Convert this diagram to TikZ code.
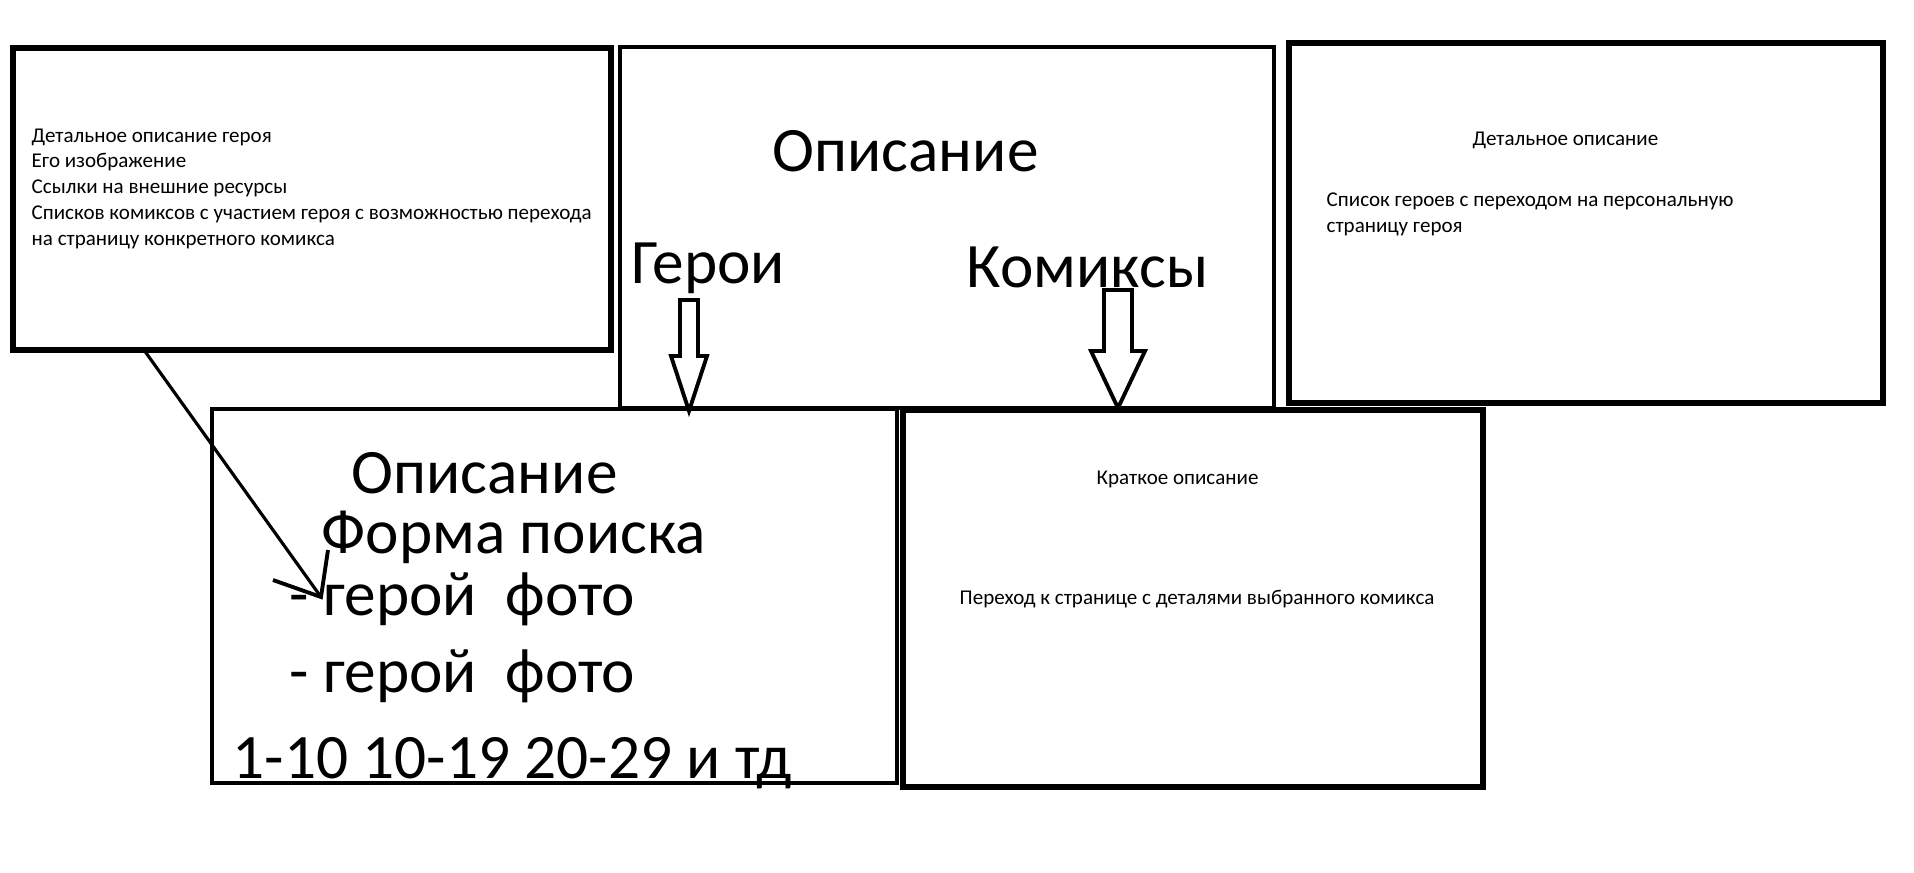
\documentclass[tikz,border=0pt]{standalone}
\usepackage{fontspec}
\setmainfont{Carlito}
\usetikzlibrary{fit}
\begin{document}
\begin{tikzpicture}[x=0.01cm,y=-0.01cm,
  box/.style={draw, line width=1.6pt, inner sep=0, outer sep=0},
  small/.style={font=\fontsize{5.98pt}{7.4pt}\selectfont, anchor=base west, inner sep=0},
  big/.style={font=\fontsize{18pt}{22pt}\selectfont, anchor=base west, inner sep=0},
  blockarrow/.style={draw, line width=1.1pt, fill=white, line join=miter},
  pointer/.style={line width=0.9pt},
  pointerarm/.style={line width=1.1pt}]
\useasboundingbox[fill=white] (0,0) rectangle (1914,872);
% boxes
\node[box, fit={(13,48) (611,350)}] (b1) {};
\node[box, line width=1.25pt, fit={(620,47) (1274,408)}] (b2) {};
\node[box, fit={(1289,43) (1883,403)}] (b3) {};
\node[box, line width=1.25pt, fit={(212,409) (897,783)}] (b4) {};
\node[box, fit={(903,410) (1483,787)}] (b5) {};
% box 1 text
\node[small] (t11) at (31,142) {Детальное описание героя};
\node[small] (t12) at (31,167) {Его изображение};
\node[small] (t13) at (31,193) {Ссылки на внешние ресурсы};
\node[small] (t14) at (31,219) {Списков комиксов с участием героя с возможностью перехода};
\node[small] (t15) at (31,245) {на страницу конкретного комикса};
% box 2 text
\node[big] (t21) at (772,171) {Описание};
\node[big] (t22) at (631,283) {Герои};
\node[big] (t23) at (966,287) {Комиксы};
% box 3 text
\node[small] (t31) at (1472,145) {Детальное описание};
\node[small] (t32) at (1326,206) {Список героев с переходом на персональную};
\node[small] (t33) at (1326,232) {страницу героя};
% box 4 text
\node[big] (t41) at (351,493) {Описание};
\node[big] (t42) at (321,553) {Форма поиска};
\node[big] (t43) at (289,615) {-\ герой\ \ фото};
\node[big] (t44) at (289,692) {-\ герой\ \ фото};
\node[big] (t45) at (232,778) {1-10 10-19 20-29 и тд};
% box 5 text
\node[small] (t51) at (1096,484) {Краткое описание};
\node[small] (t52) at (959,604) {Переход к странице с деталями выбранного комикса};
% block arrows
\coordinate (a1) at (689,411);
\coordinate (a2) at (1118,408);
\draw[blockarrow] (680,300) -- (698,300) -- (698,356) -- (707,356) -- (a1) -- (671,356) -- (680,356) -- cycle;
\draw[blockarrow] (1104,290) -- (1132,290) -- (1132,351) -- (1145,351) -- (a2) -- (1091,351) -- (1104,351) -- cycle;
% pointer from box 1 into box 4
\coordinate (p0) at (144,350);
\coordinate (ptip) at (321,597);
\coordinate (parm1) at (328,550);
\coordinate (parm2) at (273,580);
\draw[pointer] (p0) -- (ptip);
\draw[pointerarm] (parm1) -- (ptip) -- (parm2);
\end{tikzpicture}
\end{document}
